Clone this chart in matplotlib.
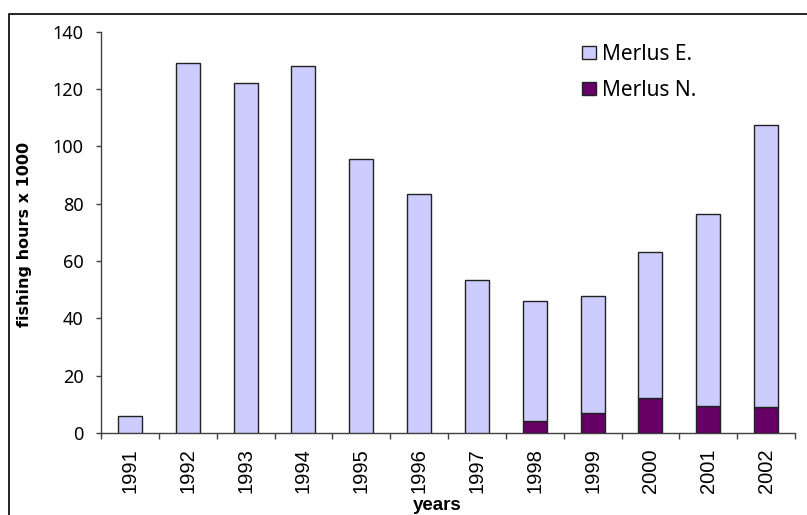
# coding: utf-8

import numpy as np
import matplotlib
matplotlib.use('Agg')
import matplotlib.pyplot as plt
from matplotlib.patches import Rectangle, Patch

years = ['1991', '1992', '1993', '1994', '1995', '1996',
         '1997', '1998', '1999', '2000', '2001', '2002']
merlus_n = [0, 0, 0, 0, 0, 0, 0, 4.2, 7.1, 12.3, 9.4, 9.1]
merlus_e = [5.8, 129.0, 122.1, 128.1, 95.6, 83.4, 53.3, 41.8, 40.6, 50.7, 67.1, 98.2]
yticks = [0, 20, 40, 60, 80, 100, 120, 140]

sans = ['Noto Sans', 'DejaVu Sans']

W, H = 807, 515
fig = plt.figure(figsize=(W/100, H/100), dpi=100)
ax = fig.add_axes([101/W, (H-433)/H, (795-101)/W, (433-31.7)/H])

# outer chart frame (cut by the image edge on the right and bottom)
fig.patches.append(Rectangle((9/W, -0.1), 1.2, (H-14)/H + 0.1,
                             transform=fig.transFigure, fill=False,
                             edgecolor='black', linewidth=1.2))

x = np.arange(len(years))
bw = 0.415
ax.bar(x, merlus_n, bw, color='#660066', edgecolor='#222222', linewidth=1.0,
       label='Merlus N.', zorder=3)
ax.bar(x, merlus_e, bw, bottom=merlus_n, color='#CCCCFF', edgecolor='#222222',
       linewidth=1.0, label='Merlus E.', zorder=3)

ax.set_xlim(-0.5, len(years) - 0.5)
ax.set_ylim(0, 140)

for s in ['top', 'right']:
    ax.spines[s].set_visible(False)
for s in ['left', 'bottom']:
    ax.spines[s].set_color('#404040')
    ax.spines[s].set_linewidth(1.0)

ax.set_yticks(yticks)
ax.set_yticklabels([str(v) for v in yticks], family=sans, fontsize=13)
ax.tick_params(axis='y', direction='out', length=3.6, width=1.0,
               color='#404040', pad=9)

ax.set_xticks(x)
ax.set_xticklabels(years, rotation=90, family=['Liberation Sans', 'DejaVu Sans'],
                   fontsize=14.5)
ax.set_xticks(np.arange(len(years) + 1) - 0.5, minor=True)
ax.tick_params(axis='x', which='major', length=0, pad=11)
ax.tick_params(axis='x', which='minor', direction='out', length=4.5,
               width=1.0, color='#404040')

fig.text(25/W, (H-234)/H, 'fishing hours x 1000', rotation=90,
         ha='center', va='center', family='DejaVu Sans', weight='bold',
         fontsize=11.5)
fig.text(437.5/W, (H-510)/H, 'years', ha='center', va='baseline',
         family=['Liberation Sans', 'DejaVu Sans'], weight='bold', fontsize=13.5)

handles = [Patch(facecolor='#CCCCFF', edgecolor='#222222', label='Merlus E.'),
           Patch(facecolor='#660066', edgecolor='#222222', label='Merlus N.')]
ax.legend(handles=handles, loc='upper left',
          bbox_to_anchor=(582/W, (H-44)/H), bbox_transform=fig.transFigure,
          frameon=False, prop={'family': sans, 'size': 15},
          handlelength=0.67, handleheight=0.58, handletextpad=0.3,
          labelspacing=0.7, borderpad=0, borderaxespad=0)

plt.savefig('out.png', dpi=100)
